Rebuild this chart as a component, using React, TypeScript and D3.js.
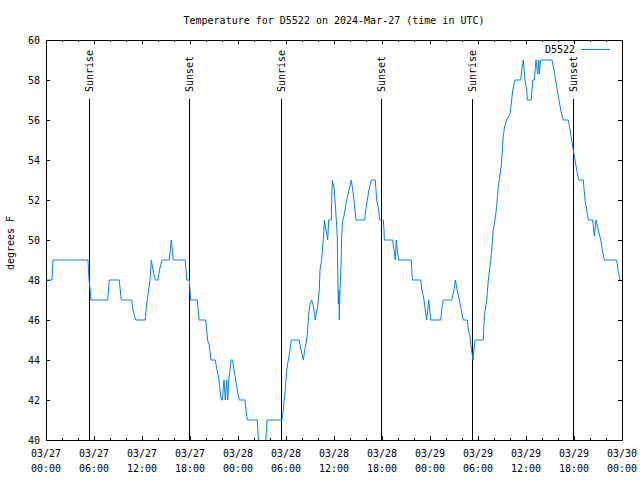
import React from "react";
import * as d3 from "d3";

const TITLE = "Temperature for D5522 on 2024-Mar-27 (time in UTC)";
const Y_LABEL = "degrees F";
const SERIES_NAME = "D5522";
const START = Date.UTC(2024, 2, 27, 0, 0);
const END = Date.UTC(2024, 2, 30, 0, 0);
const Y_TICKS = [40, 42, 44, 46, 48, 50, 52, 54, 56, 58, 60];

// hours since 2024-03-27 00:00 UTC
const hours = [
  0, 0.75, 0.875, 5.25, 5.375, 5.5, 5.625, 7.71, 7.91, 9.16, 9.41, 10.71, 10.875, 11.21, 12.41, 12.5, 12.66,
  13.0, 13.16, 13.375, 13.66, 14.0, 14.19, 14.5, 15.41, 15.66, 15.91, 17.41, 17.59, 17.91, 18.09, 18.91,
  19.125, 19.96, 20.09, 20.19, 20.41, 20.625, 21.16, 21.34, 21.625, 21.75, 21.91, 22.04, 22.25, 22.41,
  22.59, 22.71, 22.84, 23.0, 23.125, 23.34, 23.5, 23.71, 23.91, 24.16, 24.875, 25.0, 25.16, 26.41,
  26.625, 27.41, 27.625, 29.5, 29.66, 29.91, 30.09, 30.29, 30.5, 30.66, 31.66, 31.875, 32.16, 32.34,
  32.59, 32.71, 32.84, 33.0, 33.21, 33.41, 33.66, 33.96, 34.16, 34.25, 34.46, 34.59, 34.75, 34.79,
  35.09, 35.21, 35.34, 35.66, 35.71, 35.79, 36.04, 36.21, 36.41, 36.46, 36.54, 36.625, 36.66, 36.75,
  36.875, 36.96, 37.09, 37.25, 37.375, 37.59, 37.875, 38.16, 38.34, 38.5, 38.75, 39.84, 39.96, 40.16,
  40.375, 40.66, 41.16, 41.34, 41.59, 41.69, 42.16, 42.25, 42.29, 43.34, 43.5, 43.66, 43.79, 43.91,
  44.09, 45.66, 45.79, 46.84, 47.0, 47.25, 47.41, 47.59, 47.84, 48.09, 49.34, 49.46, 49.66, 50.71,
  51.0, 51.16, 51.41, 51.66, 51.91, 52.16, 52.66, 52.79, 53.0, 53.125, 53.29, 53.375, 53.54, 53.66,
  54.66, 54.79, 55.09, 55.29, 55.5, 55.71, 55.91, 56.125, 56.34, 56.54, 56.66, 56.91, 57.16, 57.34,
  57.59, 58.0, 58.21, 58.34, 58.625, 59.34, 59.46, 59.66, 59.875, 60.09, 60.16, 60.66, 60.84, 61.04,
  61.25, 61.46, 61.59, 61.66, 61.84, 63.25, 63.5, 63.71, 63.91, 64.125, 64.34, 64.66, 65.29, 65.5,
  65.71, 65.91, 66.125, 66.34, 66.59, 67.16, 67.375, 67.59, 67.79, 68.34, 68.54, 68.75, 69.04, 69.34,
  69.54, 69.79, 71.34, 71.5, 71.75,
];

const temps = [
  48, 48, 49, 49, 48, 47.6, 47, 47, 48, 48, 47, 47, 46.5, 46, 46, 46.5, 47,
  48, 49, 48.5, 48, 48, 48.5, 49, 49, 50, 49, 49, 48, 48, 47, 47,
  46, 46, 45.5, 45, 44.75, 44, 44, 43.6, 43, 42.5, 42, 42, 43, 42,
  43, 42, 43, 43.5, 44, 44, 43.5, 43, 42.5, 42, 42, 41.5, 41, 41,
  39.5, 39.5, 41, 41, 41.5, 42.5, 43.5, 44, 44.5, 45, 45, 44.5, 44, 44.5,
  45, 45.5, 46.3, 46.8, 47, 46.7, 46, 46.7, 47.5, 48.5, 49, 49.7, 50.5, 51,
  50.3, 50, 51, 51, 52, 53, 52.5, 51.5, 50.2, 48.5, 46.8, 47.5, 46, 47.5,
  48.7, 50.2, 51, 51.2, 51.5, 52, 52.5, 53, 52.5, 52, 51, 51, 51.5, 52,
  52.5, 53, 53, 52, 51.5, 51, 51, 50.5, 50, 50, 49.5, 49, 50, 49.5,
  49, 49, 48, 48, 47.5, 47, 46.5, 46, 47, 46, 46, 46.5, 47, 47,
  47.5, 48, 47.5, 47, 46.5, 46, 46, 45.5, 45.2, 44.7, 44.25, 44, 44.7, 45,
  45, 46.2, 47, 48, 48.7, 49.5, 50.5, 51, 51.7, 52.7, 53, 53.7, 55.2, 55.7,
  56, 56.3, 57, 57.5, 58, 58, 58.5, 59, 58, 57.5, 57, 57, 58, 58,
  59, 58.3, 59, 58.3, 59, 59, 58.5, 58, 57.5, 57, 56.5, 56, 56, 55.5,
  55, 54.5, 54, 53.5, 53, 53, 52, 51.5, 51, 51, 50.2, 51, 50.5, 50,
  49.5, 49, 49, 48.5, 48,
];

const sunEventHours = [5.42, 17.93, 29.38, 41.92, 53.3, 65.92];
const sunEventNames = ["Sunrise", "Sunset", "Sunrise", "Sunset", "Sunrise", "Sunset"];

const W = 640;
const H = 480;
const M = { left: 46, right: 622, top: 40, bottom: 440 };
const FONT = "'DejaVu Sans Mono', monospace";
const LINE_COLOR = "#0080ff";

export default function App() {
  const x = d3.scaleUtc().domain([new Date(START), new Date(END)]).range([M.left, M.right]);
  const y = d3.scaleLinear().domain([40, 60]).range([M.bottom, M.top]);
  const hToDate = (h: number) => new Date(START + h * 3600 * 1000);

  const data = hours.map((h, i) => ({ t: hToDate(h), v: temps[i] }));
  const line = d3
    .line<{ t: Date; v: number }>()
    .x((d) => x(d.t))
    .y((d) => y(d.v));

  const majorTicks = x.ticks(d3.utcHour.every(6)!);
  const minorTicks = x.ticks(d3.utcHour.every(2)!).filter((d) => d.getUTCHours() % 6 !== 0);
  const fmtDate = d3.utcFormat("%m/%d");
  const fmtTime = d3.utcFormat("%H:%M");

  const majLen = 4;
  const minLen = 2;

  return (
    <svg
      width={W}
      height={H}
      style={{ position: "absolute", left: 0, top: 0, background: "#fff" }}
      fontFamily={FONT}
    >
      <rect x={0} y={0} width={W} height={H} fill="#fff" />
      <defs>
        <clipPath id="plotclip">
          <rect x={M.left} y={M.top} width={M.right - M.left} height={M.bottom - M.top} />
        </clipPath>
      </defs>
      <text x={(M.left + M.right) / 2} y={24} textAnchor="middle" fontSize={10} fill="#000">
        {TITLE}
      </text>

      {/* y ticks */}
      <g shapeRendering="crispEdges" stroke="#000">
        {Y_TICKS.map((v) => (
          <g key={v}>
            <line x1={M.left} x2={M.left + majLen} y1={y(v)} y2={y(v)} />
            <line x1={M.right} x2={M.right - majLen} y1={y(v)} y2={y(v)} />
          </g>
        ))}
        {majorTicks.map((d, i) => (
          <g key={"M" + i}>
            <line x1={x(d)} x2={x(d)} y1={M.bottom} y2={M.bottom - majLen} />
            <line x1={x(d)} x2={x(d)} y1={M.top} y2={M.top + majLen} />
          </g>
        ))}
        {minorTicks.map((d, i) => (
          <g key={"m" + i}>
            <line x1={x(d)} x2={x(d)} y1={M.bottom} y2={M.bottom - minLen} />
            <line x1={x(d)} x2={x(d)} y1={M.top} y2={M.top + minLen} />
          </g>
        ))}
      </g>

      {Y_TICKS.map((v) => (
        <text key={v} x={40} y={y(v) + 3.5} textAnchor="end" fontSize={10} fill="#000">
          {v}
        </text>
      ))}
      {majorTicks.map((d, i) => (
        <g key={"l" + i}>
          <text x={x(d)} y={457} textAnchor="middle" fontSize={10} fill="#000">
            {fmtDate(d)}
          </text>
          <text x={x(d)} y={472} textAnchor="middle" fontSize={10} fill="#000">
            {fmtTime(d)}
          </text>
        </g>
      ))}

      <text
        transform={`translate(14,243) rotate(-90)`}
        textAnchor="middle"
        fontSize={10}
        fill="#000"
      >
        {Y_LABEL}
      </text>

      {/* sunrise / sunset */}
      {sunEventHours.map((h, i) => {
        const xx = Math.round(x(hToDate(h))) + 0.5;
        return (
          <g key={"s" + i}>
            <line x1={xx} x2={xx} y1={99} y2={M.bottom} stroke="#000" shapeRendering="crispEdges" />
            <text
              transform={`translate(${xx + 3.5},92) rotate(-90)`}
              textAnchor="start"
              fontSize={10}
              fill="#000"
            >
              {sunEventNames[i]}
            </text>
          </g>
        );
      })}

      <path d={line(data) || ""} fill="none" stroke={LINE_COLOR} strokeWidth={1} clipPath="url(#plotclip)" />

      {/* legend */}
      <text x={575} y={53} textAnchor="end" fontSize={10} fill="#000">
        {SERIES_NAME}
      </text>
      <line x1={581} x2={610} y1={49.5} y2={49.5} stroke={LINE_COLOR} strokeWidth={1} />

      {/* border */}
      <rect
        x={M.left + 0.5}
        y={M.top + 0.5}
        width={M.right - M.left}
        height={M.bottom - M.top}
        fill="none"
        stroke="#000"
        shapeRendering="crispEdges"
      />
    </svg>
  );
}
